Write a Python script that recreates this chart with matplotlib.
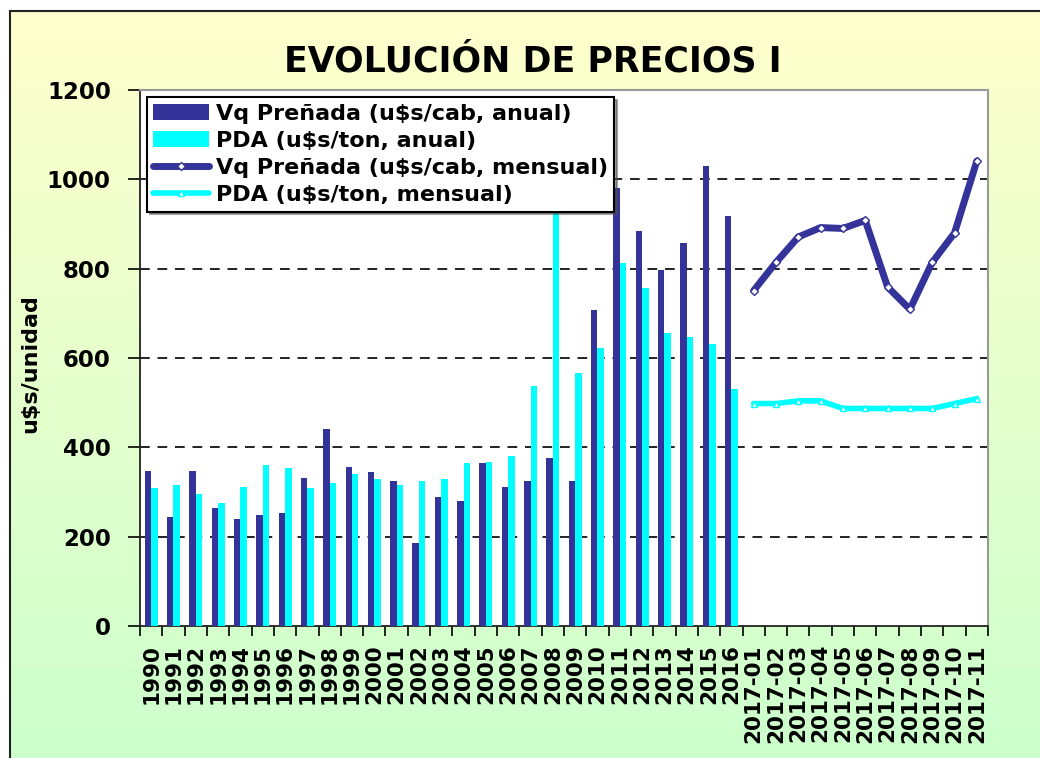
import numpy as np
import matplotlib.pyplot as plt
from matplotlib.colors import LinearSegmentedColormap

plt.rcParams['font.family'] = 'DejaVu Sans'
plt.rcParams['font.weight'] = 'bold'

# annual series
years = [str(y) for y in range(1990, 2017)]
vq_anual = [348, 244, 348, 264, 240, 248, 252, 332, 442, 356, 344, 324, 186, 288,
            280, 364, 312, 324, 377, 324, 708, 980, 885, 798, 858, 1030, 918]
pda_anual = [308, 316, 296, 276, 312, 361, 353, 308, 320, 340, 328, 316, 324, 328,
             364, 368, 380, 538, 990, 566, 623, 813, 756, 655, 647, 631, 530]

# monthly series 2017
months = ['2017-%02d' % m for m in range(1, 12)]
vq_mensual = [751, 814, 871, 892, 890, 908, 759, 709, 814, 880, 1041]
pda_mensual = [498, 498, 504, 504, 487, 487, 487, 487, 487, 498, 509]

labels = years + months
n_years = len(years)
x_years = np.arange(n_years)
x_months = np.arange(n_years, len(labels))

DARK = '#333399'
CYAN = '#00FFFF'

fig = plt.figure(figsize=(10.4, 7.58), dpi=100)

# gradient background with border
bg = fig.add_axes([10 / 1040, 0, 1 - 10 / 1040, 1 - 11 / 758], zorder=-5)
cmap = LinearSegmentedColormap.from_list('bg', ['#FFFFCC', '#CCFFCC'])
bg.imshow(np.linspace(0, 1, 256).reshape(-1, 1), aspect='auto', cmap=cmap,
          extent=[0, 1, 0, 1])
bg.set_xticks([])
bg.set_yticks([])
for side in ['left', 'top']:
    bg.spines[side].set_linewidth(1.5)
    bg.spines[side].set_color('#222222')
bg.spines['right'].set_visible(False)
bg.spines['bottom'].set_visible(False)

ax = fig.add_axes([140 / 1040, 1 - 626 / 758, (988 - 140) / 1040, (626 - 90) / 758])
ax.set_facecolor('white')

w = 0.29
b1 = ax.bar(x_years - 0.145, vq_anual, width=w, color=DARK, zorder=3)
b2 = ax.bar(x_years + 0.145, pda_anual, width=w, color=CYAN, zorder=3)
l1, = ax.plot(x_months, vq_mensual, color=DARK, lw=5, marker='D', ms=4.5, mfc='white',
              mec=DARK, mew=1, solid_capstyle='round', zorder=4)
l2, = ax.plot(x_months, pda_mensual, color=CYAN, lw=4, marker='^', ms=4.5, mfc='white',
              mec=CYAN, mew=1, solid_capstyle='round', zorder=4)

ax.set_xlim(-0.5, len(labels) - 0.5)
ax.set_ylim(0, 1200)
ax.set_yticks(range(0, 1201, 200))
ax.tick_params(axis='y', length=9, width=1.2, pad=12, labelsize=16.5, direction='out')
for yv in range(200, 1001, 200):
    ax.axhline(yv, color='#222222', lw=1.4, ls=(0, (5, 4)), zorder=1)

# ticks between categories, labels at centres
ax.set_xticks(np.arange(-0.5, len(labels), 1))
ax.set_xticklabels([])
ax.tick_params(axis='x', which='major', length=7, width=1.2, direction='out')
ax.set_xticks(np.arange(len(labels)), minor=True)
ax.set_xticklabels(labels, minor=True, rotation=90, fontsize=15.5)
ax.tick_params(axis='x', which='minor', length=0, pad=13)

for side in ['top', 'right']:
    ax.spines[side].set_color('#999999')
    ax.spines[side].set_linewidth(1.5)
for side in ['left', 'bottom']:
    ax.spines[side].set_color('#222222')
    ax.spines[side].set_linewidth(1.3)

ax.set_ylabel('u$s/unidad', fontsize=16, fontweight='bold')
ax.yaxis.set_label_coords(-0.118, 0.49)

fig.text(533 / 1040, 1 - 62 / 758, 'EVOLUCIÓN DE PRECIOS I', ha='center', va='center',
         fontsize=25, fontweight='bold')

leg = ax.legend([b1, b2, l1, l2],
                ['Vq Preñada (u$s/cab, anual)', 'PDA (u$s/ton, anual)',
                 'Vq Preñada (u$s/cab, mensual)', 'PDA (u$s/ton, mensual)'],
                loc='upper left', bbox_to_anchor=(0.008, 0.987), borderaxespad=0,
                fancybox=False, shadow=True, framealpha=1, edgecolor='black',
                fontsize=16, handlelength=2.5, handletextpad=0.3, labelspacing=0.32,
                borderpad=0.3)
leg.get_frame().set_linewidth(1.5)

fig.savefig('out.png', dpi=100)
